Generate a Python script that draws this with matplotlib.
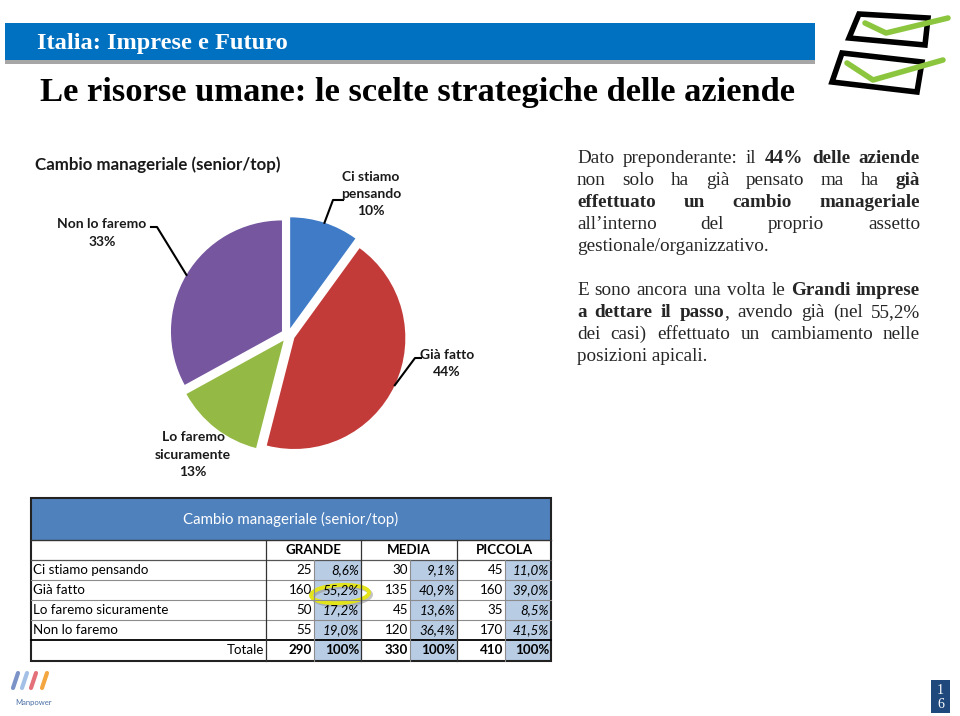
import matplotlib
matplotlib.use("Agg")
import matplotlib.pyplot as plt
from matplotlib.patches import Rectangle, Polygon, Ellipse
import numpy as np

# ---------------- data ----------------
pie_labels = [["Ci stiamo", "pensando"], ["Già fatto"], ["Lo faremo", "sicuramente"], ["Non lo faremo"]]
pie_pcts = [10, 44, 13, 33]
pie_colors = ["#3F7BC7", "#C23B39", "#94B944", "#76569F"]

table_title = "Cambio manageriale (senior/top)"
row_labels = ["Ci stiamo pensando", "Già fatto", "Lo faremo sicuramente", "Non lo faremo"]
groups = ["GRANDE", "MEDIA", "PICCOLA"]
grande_n = [25, 160, 50, 55]
grande_pct = ["8,6%", "55,2%", "17,2%", "19,0%"]
media_n = [30, 135, 45, 120]
media_pct = ["9,1%", "40,9%", "13,6%", "36,4%"]
piccola_n = [45, 160, 35, 170]
piccola_pct = ["11,0%", "39,0%", "8,5%", "41,5%"]
totals_n = [290, 330, 410]
totals_pct = ["100%", "100%", "100%"]

para1 = ["Dato preponderante: il **44% delle aziende**",
         "non solo ha già pensato ma ha **già**",
         "**effettuato un cambio manageriale**",
         "all’interno del proprio assetto",
         "gestionale/organizzativo."]
para2 = ["E sono ancora una volta le **Grandi imprese**",
         "**a dettare il passo**, avendo già (nel 55,2%",
         "dei casi) effettuato un cambiamento nelle",
         "posizioni apicali."]

# ---------------- figure ----------------
W, H = 960, 716
fig = plt.figure(figsize=(9.6, 7.16), dpi=100)
fig.patch.set_facecolor("white")
ax = fig.add_axes([0, 0, 1, 1])


def Y(py):
    return H - py


SANS = ["Lato", "DejaVu Sans"]
SERIF = ["Liberation Serif", "DejaVu Serif"]

# ---------------- header ----------------
ax.add_patch(Rectangle((5, Y(64)), 810, 4, color="#A6A6A6", lw=0))
ax.add_patch(Rectangle((5, Y(60)), 810, 37, color="#0070C0", lw=0))
ax.text(37, Y(43), "Italia: Imprese e Futuro", color="white", family=SERIF,
        fontweight="bold", fontsize=17.6, va="center", ha="left")
ax.text(40, Y(92), "Le risorse umane: le scelte strategiche delle aziende", color="black",
        family=SERIF, fontweight="bold", fontsize=24.8, va="center", ha="left")

# check-box logo
for box, chk in [([(859, 14), (928, 18), (925, 45), (849, 38)], [(865, 23), (886, 33), (948, 18)]),
                 ([(842, 53), (922, 62), (917, 92), (832, 82)], [(847, 63), (873, 80), (943, 60)])]:
    ax.add_patch(Polygon([(x, Y(y)) for x, y in box], closed=True, fc="white", ec="black", lw=4))
    ax.plot([p[0] for p in chk], [Y(p[1]) for p in chk], color="#8CC63F", lw=4,
            solid_capstyle="round", solid_joinstyle="round")

# ---------------- pie ----------------
cx, cy, rad, expl = 288, Y(335), 111, 7
wedges, _ = ax.pie(pie_pcts, colors=pie_colors, startangle=90, counterclock=False,
                   center=(cx, cy), radius=rad, explode=[expl] * len(pie_pcts), frame=True,
                   wedgeprops=dict(linewidth=0))

ax.text(35, Y(165), "Cambio manageriale (senior/top)", family=SANS, fontweight="bold",
        fontsize=12.2, color="#1a1a1a", va="center", ha="left")


def edge_point(w):
    m = np.deg2rad((w.theta1 + w.theta2) / 2)
    return w.center[0] + w.r * np.cos(m), w.center[1] + w.r * np.sin(m)


label_pos = [(371, [177, 194], 211),
             (447, [355], 372),
             (193, [437, 455], 472),
             (102, [224], 242)]
for lab, pct, (lx, ys, py) in zip(pie_labels, pie_pcts, label_pos):
    for t, yy in zip(lab, ys):
        ax.text(lx, Y(yy), t, family=SANS, fontweight="bold", fontsize=10, color="#1a1a1a",
                ha="center", va="center")
    ax.text(lx, Y(py), f"{pct}%", family=SANS, fontweight="bold", fontsize=10, color="#1a1a1a",
            ha="center", va="center")

# leader lines
elbows = {0: [(333, 200), (343, 200)], 1: [(415, 358), (421, 358)], 3: [(157, 227), (151, 227)]}
for i, pts in elbows.items():
    sx, sy = edge_point(wedges[i])
    xs = [sx] + [p[0] for p in pts]
    ys = [sy] + [Y(p[1]) for p in pts]
    ax.plot(xs, ys, color="black", lw=1.5)

# ---------------- right text ----------------
renderer = fig.canvas.get_renderer()


def parse(line):
    words = [[]]
    for i, part in enumerate(line.split("**")):
        bold = (i % 2 == 1)
        for j, ch in enumerate(part.split(" ")):
            if j > 0:
                words.append([])
            if ch:
                words[-1].append((ch, bold))
    return [w for w in words if w]


def draw_par(lines, y0, dy, left=577, right=920, fs=13.8):
    for k, line in enumerate(lines):
        y = Y(y0 + k * dy)
        if k == len(lines) - 1:
            ax.text(left, y, line.replace("**", ""), family=SERIF, fontsize=fs, color="#262626",
                    va="baseline", ha="left")
            continue
        words = parse(line)
        objs = []
        total = 0
        for w in words:
            wo = []
            for txt, b in w:
                t = ax.text(0, y, txt, family=SERIF, fontsize=fs, color="#262626",
                            fontweight="bold" if b else "normal", va="baseline", ha="left")
                wd = t.get_window_extent(renderer=renderer).width
                wo.append((t, wd))
                total += wd
            objs.append(wo)
        gap = (right - left - total) / max(len(words) - 1, 1)
        x = left
        for wo in objs:
            for t, wd in wo:
                t.set_x(x)
                x += wd
            x += gap


draw_par(para1, 163, 22)
draw_par(para2, 295, 22)

# ---------------- table ----------------
cols = [31, 266, 314, 361, 410, 457, 505, 551]
rows = [498, 540, 560, 580, 600, 620, 640, 661]
ax.add_patch(Rectangle((cols[0], Y(rows[1])), cols[-1] - cols[0], rows[1] - rows[0],
                       color="#4F81BD", lw=0))
ax.text((cols[0] + cols[-1]) / 2, Y((rows[0] + rows[1]) / 2), table_title, family=SANS,
        fontsize=10.8, color="white", ha="center", va="center")
for c in (2, 4, 6):
    ax.add_patch(Rectangle((cols[c], Y(rows[-1])), cols[c + 1] - cols[c], rows[-1] - rows[2],
                           color="#B8CCE4", lw=0))
for r in rows[3:6]:
    ax.plot([cols[0], cols[-1]], [Y(r), Y(r)], color="#8C8C8C", lw=0.8)
ax.plot([cols[0], cols[-1]], [Y(rows[2]), Y(rows[2])], color="#555555", lw=0.9)
ax.plot([cols[0], cols[-1]], [Y(rows[1]), Y(rows[1])], color="#333333", lw=1.0)
ax.plot([cols[0], cols[-1]], [Y(rows[6]), Y(rows[6])], color="black", lw=1.3)
for c in (1, 3, 5):
    ax.plot([cols[c], cols[c]], [Y(rows[1]), Y(rows[-1])], color="#333333", lw=0.9)
for c in (2, 4, 6):
    ax.plot([cols[c], cols[c]], [Y(rows[2]), Y(rows[-1])], color="#8C8C8C", lw=0.8)
ax.add_patch(Rectangle((cols[0], Y(rows[-1])), cols[-1] - cols[0], rows[-1] - rows[0],
                       fill=False, ec="#222222", lw=1.5))

fs_t = 9.6
for g, name in enumerate(groups):
    ax.text((cols[1 + 2 * g] + cols[3 + 2 * g]) / 2, Y((rows[1] + rows[2]) / 2), name,
            family=SANS, fontweight="bold", fontsize=fs_t, color="black", ha="center", va="center")
series_n = [grande_n, media_n, piccola_n]
series_p = [grande_pct, media_pct, piccola_pct]
for i, lab in enumerate(row_labels):
    yc = Y((rows[2 + i] + rows[3 + i]) / 2)
    ax.text(cols[0] + 2, yc, lab, family=SANS, fontsize=fs_t, color="black", ha="left", va="center")
    for g in range(3):
        ax.text(cols[2 + 2 * g] - 2, yc, str(series_n[g][i]), family=SANS, fontsize=fs_t,
                color="black", ha="right", va="center")
        ax.text(cols[3 + 2 * g] - 2, yc, series_p[g][i], family=SANS, fontsize=fs_t,
                style="italic", color="black", ha="right", va="center")
yc = Y((rows[6] + rows[7]) / 2)
ax.text(cols[1] - 2, yc, "Totale", family=SANS, fontsize=fs_t, color="black", ha="right", va="center")
for g in range(3):
    ax.text(cols[2 + 2 * g] - 2, yc, str(totals_n[g]), family=SANS, fontsize=fs_t,
            fontweight="bold", color="black", ha="right", va="center")
    ax.text(cols[3 + 2 * g] - 2, yc, totals_pct[g], family=SANS, fontsize=fs_t,
            fontweight="bold", color="black", ha="right", va="center")

# highlight ellipse around 55,2%
ax.add_patch(Ellipse((342, Y(596)), 58, 18, angle=3, fill=False, ec="#9A9A9A", lw=2.8, alpha=0.6))
ax.add_patch(Ellipse((340, Y(594)), 58, 18, angle=3, fill=False, ec="#E3E41A", lw=2.8))

# ---------------- footer ----------------
for x0, col in zip([13, 22, 31, 42], ["#7B93C6", "#A3C0E6", "#E4707A", "#F4A640"]):
    ax.plot([x0, x0 + 5], [Y(688), Y(673)], color=col, lw=3, solid_capstyle="round")
ax.text(33, Y(703), "Manpower", family=SANS, fontsize=5.5, color="#4A6FA5", ha="center", va="center")
ax.add_patch(Rectangle((931, Y(713)), 19, 33, color="#1F497D", lw=0))
ax.text(940.5, Y(690), "1", family=SERIF, fontsize=10, color="white", ha="center", va="center")
ax.text(940.5, Y(705), "6", family=SERIF, fontsize=10, color="white", ha="center", va="center")

ax.set_xlim(0, W)
ax.set_ylim(0, H)
ax.set_aspect("auto")
ax.axis("off")
fig.savefig("out.png", dpi=100, facecolor="white")
